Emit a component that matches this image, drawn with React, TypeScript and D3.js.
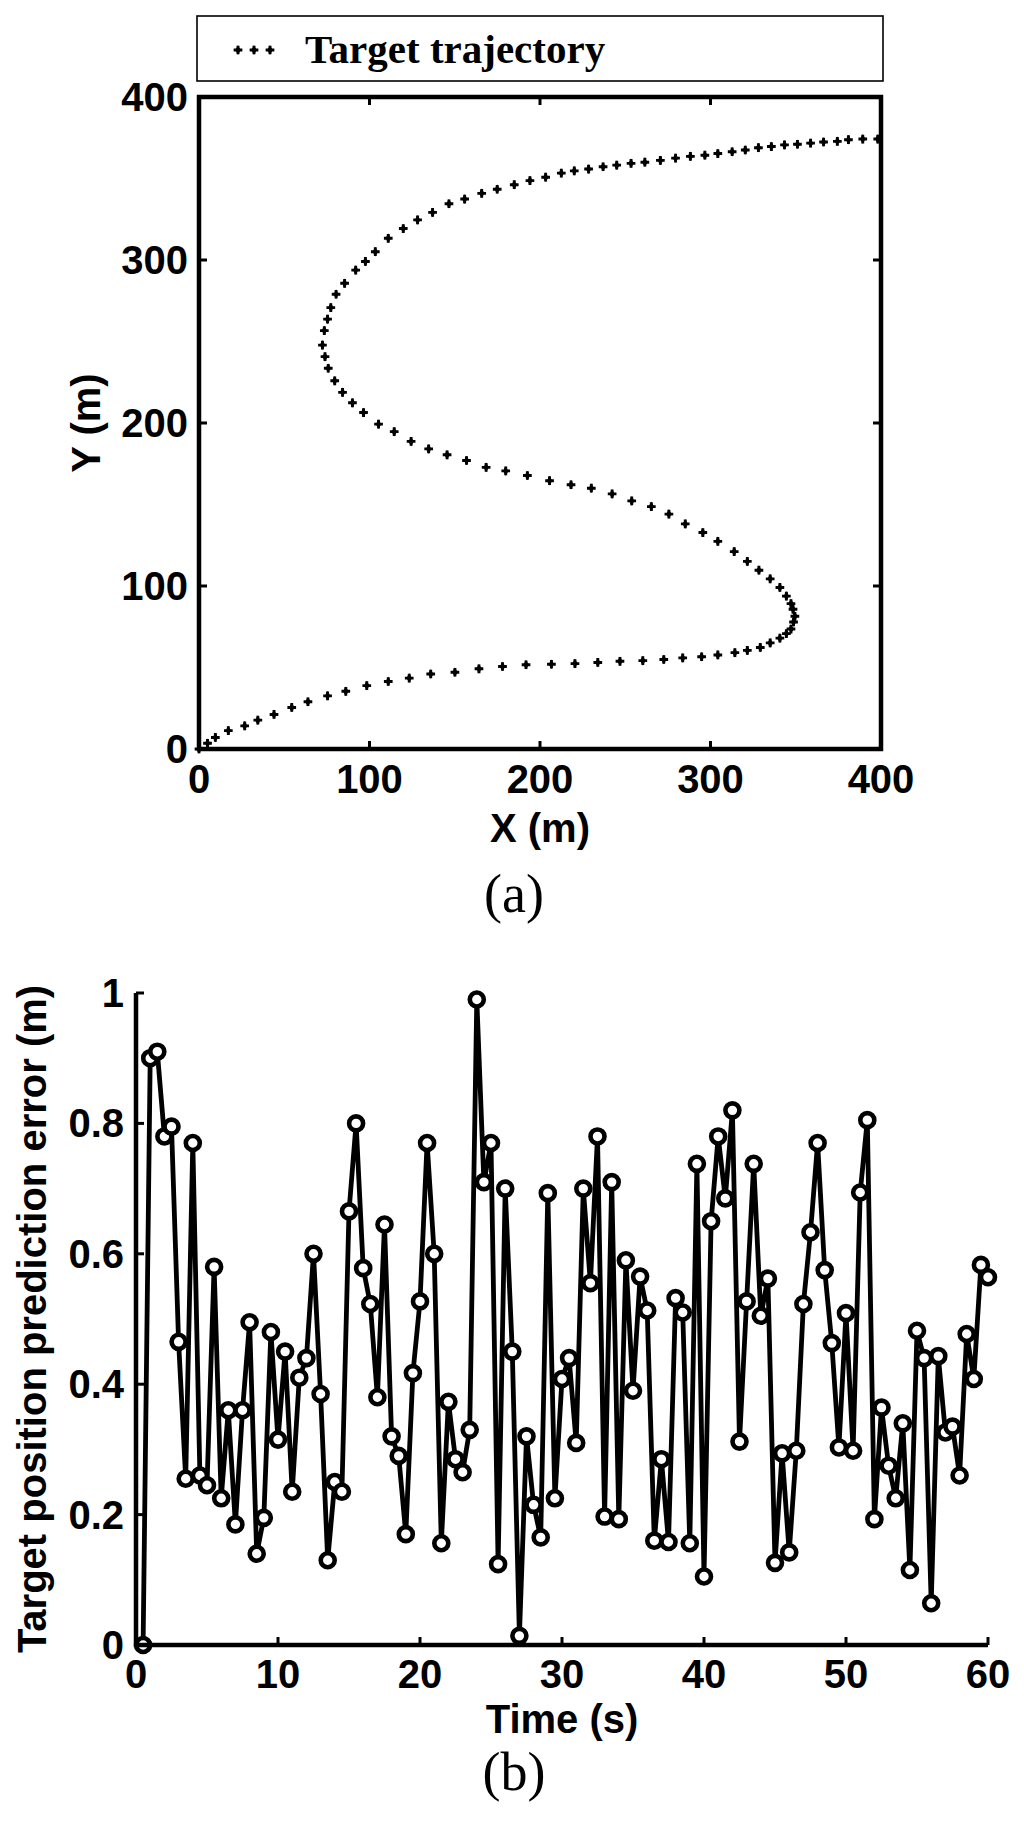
import React from 'react';
import * as d3 from 'd3';

// (a) target trajectory (metres)
const trajX = [
  0, 5.0, 9.6, 17.2, 26.8, 34.5, 44.0, 54.4, 63.9, 75.4, 86.1, 98.4, 111.0, 123.3, 135.9, 150.1, 164.2, 178.0, 191.8,
  206.7, 220.5, 233.9, 246.9, 260.3, 272.6, 283.7, 294.8, 304.3, 314.3, 321.6, 329.2, 335.0, 340.7, 344.5, 347.2, 348.7,
  349.5, 348.4, 347.2, 344.5, 340.7, 335.0, 328.4, 321.6, 313.9, 304.3, 295.5, 285.2, 275.6, 265.3, 253.8, 242.3, 230.1,
  218.2, 205.6, 192.6, 179.9, 168.4, 156.9, 145.5, 134.7, 124.4, 114.5, 105.3, 96.5, 90.0, 84.2, 79.6, 75.8, 73.9, 72.4,
  73.5, 75.4, 77.3, 80.4, 85.4, 91.9, 97.6, 103.4, 111.0, 119.8, 128.2, 137.0, 146.6, 155.8, 165.8, 174.9, 184.9, 194.1,
  203.3, 212.5, 220.1, 228.5, 237.0, 245.0, 253.4, 261.5, 270.6, 279.5, 288.2, 296.7, 304.3, 312.7, 320.4, 328.1, 335.7,
  343.4, 351.0, 358.7, 366.3, 374.4, 380.9, 389.3, 398.1,
];
const trajY = [
  0, 3.5, 7.1, 11.3, 14.2, 17.7, 21.2, 25.5, 29.0, 32.6, 35.4, 38.9, 41.4, 43.5, 46.0, 47.1, 49.2, 50.6, 51.7, 52.0, 52.4,
  53.1, 53.8, 54.2, 54.9, 55.9, 56.6, 57.7, 59.1, 60.5, 62.3, 65.1, 68.0, 70.8, 73.6, 77.9, 81.4, 85.7, 89.2, 93.8, 99.1,
  104.4, 109.7, 115.1, 121.1, 127.4, 132.8, 138.1, 144.1, 148.7, 152.2, 156.5, 160.0, 162.1, 164.6, 167.8, 170.6, 172.8,
  177.0, 180.5, 184.1, 188.7, 194.7, 199.3, 206.4, 212.4, 218.8, 225.9, 233.6, 240.7, 247.8, 256.7, 263.7, 270.8, 279.0,
  285.7, 293.8, 299.1, 305.1, 313.3, 319.3, 324.6, 329.2, 334.5, 337.4, 340.9, 343.4, 346.2, 348.7, 350.8, 353.3, 354.7,
  355.8, 357.2, 358.2, 359.3, 360.0, 361.1, 362.5, 363.6, 364.3, 365.3, 366.4, 367.5, 368.9, 369.6, 370.6, 371.0, 371.7,
  372.4, 372.8, 373.8, 374.2, 374.2,
];
const trajTicks = [0, 100, 200, 300, 400];

// (b) prediction error over time
const errTime = [
  0.5, 1, 1.5, 2, 2.5, 3, 3.5, 4, 4.5, 5, 5.5, 6, 6.5, 7, 7.5, 8, 8.5, 9, 9.5, 10, 10.5, 11, 11.5, 12, 12.5, 13, 13.5, 14,
  14.5, 15, 15.5, 16, 16.5, 17, 17.5, 18, 18.5, 19, 19.5, 20, 20.5, 21, 21.5, 22, 22.5, 23, 23.5, 24, 24.5, 25, 25.5, 26,
  26.5, 27, 27.5, 28, 28.5, 29, 29.5, 30, 30.5, 31, 31.5, 32, 32.5, 33, 33.5, 34, 34.5, 35, 35.5, 36, 36.5, 37, 37.5, 38,
  38.5, 39, 39.5, 40, 40.5, 41, 41.5, 42, 42.5, 43, 43.5, 44, 44.5, 45, 45.5, 46, 46.5, 47, 47.5, 48, 48.5, 49, 49.5, 50,
  50.5, 51, 51.5, 52, 52.5, 53, 53.5, 54, 54.5, 55, 55.5, 56, 56.5, 57, 57.5, 58, 58.5, 59, 59.5, 60,
];
const errValue = [
  0, 0.9, 0.91, 0.78, 0.795, 0.465, 0.255, 0.77, 0.26, 0.245, 0.58, 0.225, 0.36, 0.185, 0.36, 0.495, 0.14, 0.195, 0.48,
  0.315, 0.45, 0.235, 0.41, 0.44, 0.6, 0.385, 0.13, 0.25, 0.235, 0.665, 0.8, 0.578, 0.523, 0.38, 0.645, 0.32, 0.29, 0.17,
  0.417, 0.527, 0.77, 0.6, 0.156, 0.373, 0.285, 0.265, 0.33, 0.99, 0.71, 0.77, 0.124, 0.7, 0.45, 0.014, 0.32, 0.215, 0.165,
  0.693, 0.225, 0.408, 0.44, 0.31, 0.7, 0.555, 0.78, 0.197, 0.71, 0.193, 0.59, 0.39, 0.565, 0.513, 0.16, 0.285, 0.158,
  0.532, 0.51, 0.156, 0.738, 0.105, 0.65, 0.78, 0.685, 0.82, 0.312, 0.527, 0.738, 0.505, 0.562, 0.126, 0.294, 0.142,
  0.298, 0.523, 0.633, 0.77, 0.575, 0.463, 0.303, 0.509, 0.298, 0.694, 0.805, 0.193, 0.364, 0.275, 0.225, 0.34, 0.115,
  0.482, 0.44, 0.064, 0.443, 0.326, 0.335, 0.26, 0.477, 0.408, 0.583, 0.564,
];
const errXTicks = [0, 10, 20, 30, 40, 50, 60];
const errYTicks = [0, 0.2, 0.4, 0.6, 0.8, 1];
const errYTickLabels = ['0', '0.2', '0.4', '0.6', '0.8', '1'];

const sans = '"Liberation Sans", Arial, Helvetica, sans-serif';
const serif = '"Liberation Serif", "Times New Roman", serif';

const crossPath = d3.symbol().type(d3.symbolCross).size(42)();
const diamondPath = d3.symbol().type(d3.symbolDiamond).size(26)();

const Plus = ({ x, y }) => (
  <g transform={`translate(${x},${y})`}>
    <path d={crossPath} fill="#000" />
    <path d={diamondPath} fill="#000" />
  </g>
);

const TrajectoryChart = () => {
  const box = { left: 199, right: 881, top: 97, bottom: 749 };
  const x = d3.scaleLinear().domain([0, 400]).range([box.left, box.right]);
  const y = d3.scaleLinear().domain([0, 400]).range([box.bottom, box.top]);
  const tickLen = 8;

  return (
    <g>
      {/* legend */}
      <rect x={197} y={16} width={686} height={65} fill="#fff" stroke="#000" strokeWidth={1.6} />
      {[238, 254, 270].map((lx) => (
        <Plus key={lx} x={lx} y={50} />
      ))}
      <text x={305} y={63} fontFamily={serif} fontWeight="bold" fontSize={41}>
        Target trajectory
      </text>

      {/* ticks on all four sides, pointing in */}
      {trajTicks.map((t) => (
        <g key={`t${t}`} stroke="#000" strokeWidth={3}>
          <line x1={x(t)} x2={x(t)} y1={box.bottom} y2={box.bottom - tickLen} />
          <line x1={x(t)} x2={x(t)} y1={box.top} y2={box.top + tickLen} />
          <line x1={box.left} x2={box.left + tickLen} y1={y(t)} y2={y(t)} />
          <line x1={box.right} x2={box.right - tickLen} y1={y(t)} y2={y(t)} />
        </g>
      ))}
      <rect
        x={box.left}
        y={box.top}
        width={box.right - box.left}
        height={box.bottom - box.top}
        fill="none"
        stroke="#000"
        strokeWidth={4.5}
      />

      {trajX.map((px, i) => (
        <Plus key={i} x={x(px)} y={y(trajY[i])} />
      ))}

      <g fontFamily={sans} fontWeight="bold" fontSize={40} fill="#000">
        {trajTicks.map((t) => (
          <text key={`yl${t}`} x={box.left - 11} y={y(t) + 14} textAnchor="end">
            {t}
          </text>
        ))}
        {trajTicks.map((t) => (
          <text key={`xl${t}`} x={x(t)} y={box.bottom + 44} textAnchor="middle">
            {t}
          </text>
        ))}
        <text x={(box.left + box.right) / 2} y={842} textAnchor="middle">
          X (m)
        </text>
        <text transform={`translate(100,${(box.top + box.bottom) / 2}) rotate(-90)`} textAnchor="middle">
          Y (m)
        </text>
      </g>

      <text x={514} y={912} textAnchor="middle" fontFamily={serif} fontSize={54}>
        (a)
      </text>
    </g>
  );
};

const ErrorChart = () => {
  const box = { left: 136, right: 988, top: 993, bottom: 1645 };
  const x = d3.scaleLinear().domain([0, 60]).range([box.left, box.right]);
  const y = d3.scaleLinear().domain([0, 1]).range([box.bottom, box.top]);
  const tickLen = 8;

  const points = errTime.map((t, i) => [t, errValue[i]] as [number, number]);
  const line = d3
    .line<[number, number]>()
    .x((d) => x(d[0]))
    .y((d) => y(d[1]));

  return (
    <g>
      <path d={line(points) || ''} fill="none" stroke="#000" strokeWidth={4.8} strokeLinejoin="miter" strokeMiterlimit={2} />
      {points.map((d, i) => (
        <circle key={i} cx={x(d[0])} cy={y(d[1])} r={7} fill="#fff" stroke="#000" strokeWidth={4.6} />
      ))}

      <g stroke="#000" strokeWidth={3}>
        {errXTicks.map((t) => (
          <line key={`xt${t}`} x1={x(t)} x2={x(t)} y1={box.bottom} y2={box.bottom - tickLen} />
        ))}
        {errYTicks.map((t) => (
          <line key={`yt${t}`} x1={box.left} x2={box.left + tickLen} y1={y(t)} y2={y(t)} />
        ))}
      </g>
      <path
        d={`M${box.left},${box.top}V${box.bottom}H${box.right}`}
        fill="none"
        stroke="#000"
        strokeWidth={4.5}
      />

      <g fontFamily={sans} fontWeight="bold" fontSize={40} fill="#000">
        {errYTicks.map((t, i) => (
          <text key={`yl${t}`} x={box.left - 12} y={y(t) + 14} textAnchor="end">
            {errYTickLabels[i]}
          </text>
        ))}
        {errXTicks.map((t) => (
          <text key={`xl${t}`} x={x(t)} y={box.bottom + 43} textAnchor="middle">
            {t}
          </text>
        ))}
        <text x={(box.left + box.right) / 2} y={1733} textAnchor="middle">
          Time (s)
        </text>
        <text transform={`translate(46,${(box.top + box.bottom) / 2}) rotate(-90)`} textAnchor="middle">
          Target position prediction error (m)
        </text>
      </g>

      <text x={514} y={1790} textAnchor="middle" fontFamily={serif} fontSize={54}>
        (b)
      </text>
    </g>
  );
};

const App = () => {
  return (
    <div style={{ position: 'absolute', left: 0, top: 0 }}>
      <svg width={1024} height={1837} style={{ display: 'block', background: '#fff' }}>
        <TrajectoryChart />
        <ErrorChart />
      </svg>
    </div>
  );
};

export default App;
